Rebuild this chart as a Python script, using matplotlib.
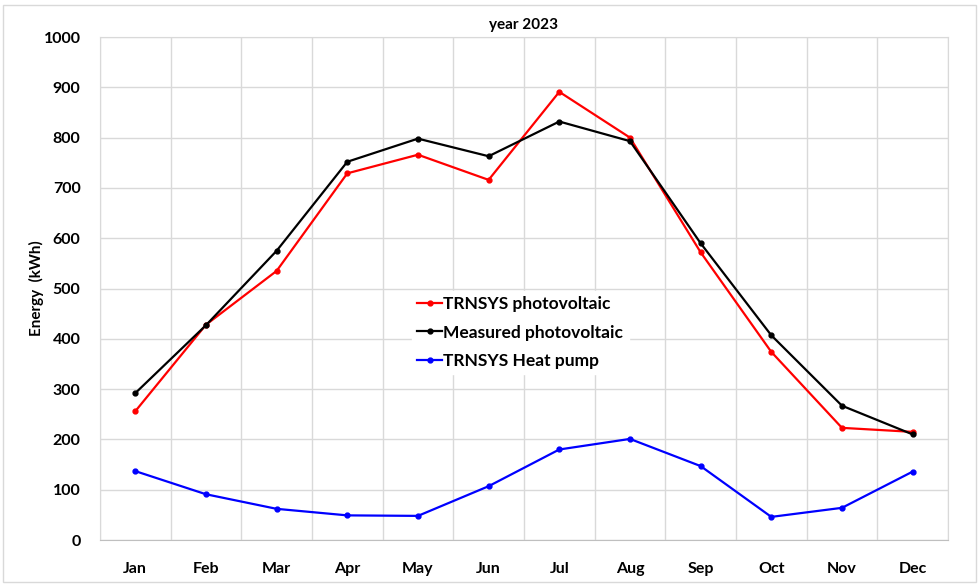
import matplotlib.pyplot as plt
from matplotlib.patches import Rectangle
from matplotlib.ticker import MultipleLocator

# ===========================
# Dados (kWh por mês, ano 2023)
# ===========================
months = ['Jan', 'Feb', 'Mar', 'Apr', 'May', 'Jun',
          'Jul', 'Aug', 'Sep', 'Oct', 'Nov', 'Dec']
trnsys_pv = [256, 428, 535, 729, 766, 716, 891, 800, 572, 374, 223, 215]
measured_pv = [292, 427, 575, 752, 798, 763, 832, 793, 590, 407, 267, 210]
trnsys_hp = [137, 91, 62, 49, 48, 107, 180, 201, 147, 46, 64, 136]

plt.rcParams['font.family'] = ['Lato', 'DejaVu Sans']
plt.rcParams['font.weight'] = 'bold'

fig = plt.figure(figsize=(9.79, 5.84), dpi=100)
ax = fig.add_axes([0.1021, 0.0753, 0.8662, 0.8613])

x = list(range(len(months)))
ax.plot(x, trnsys_pv, color='#ff0000', lw=1.6, marker='o', ms=3.5, label='TRNSYS photovoltaic', zorder=3)
ax.plot(x, measured_pv, color='#000000', lw=1.6, marker='o', ms=3.5, label='Measured photovoltaic', zorder=4)
ax.plot(x, trnsys_hp, color='#0000ff', lw=1.6, marker='o', ms=3.5, label='TRNSYS Heat pump', zorder=3)

ax.set_xlim(-0.5, 11.5)
ax.set_ylim(0, 1000)
ax.set_xticks(x)
ax.set_xticklabels(months)
ax.xaxis.set_minor_locator(MultipleLocator(1, offset=0.5))
ax.yaxis.set_major_locator(MultipleLocator(100))
ax.tick_params(axis='both', which='both', length=0, labelsize=11.5)
ax.tick_params(axis='x', pad=16)
ax.tick_params(axis='y', pad=14)

ax.grid(axis='y', which='major', color='#d9d9d9', lw=1)
ax.grid(axis='x', which='minor', color='#d9d9d9', lw=1)
ax.set_axisbelow(True)
for side in ['top', 'right', 'left']:
    ax.spines[side].set_color('#d9d9d9')
ax.spines['bottom'].set_color('#bfbfbf')

ax.set_ylabel('Energy  (kWh)', fontsize=11, fontweight='bold', labelpad=0)
ax.set_title('year 2023', fontsize=11, fontweight='bold', pad=6)

leg = ax.legend(loc='upper left', bbox_to_anchor=(0.358, 0.512), frameon=True,
                fancybox=False, framealpha=1, edgecolor='white', facecolor='white',
                fontsize=12.5, handlelength=1.4, handletextpad=0.1, labelspacing=0.7,
                borderpad=0.3)

# borda da área do gráfico
fig.patches.append(Rectangle((0.003, 0.004), 0.994, 0.988, transform=fig.transFigure,
                             fill=False, edgecolor='#d9d9d9', lw=1))

plt.savefig('out.png', dpi=100)
plt.close()
